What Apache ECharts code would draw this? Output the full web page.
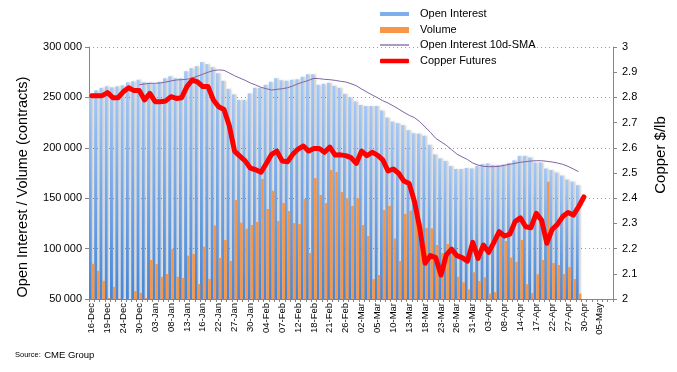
<!DOCTYPE html>
<html><head><meta charset="utf-8">
<script src="https://cdn.jsdelivr.net/npm/echarts@6/dist/echarts.min.js"></script>
<style>html,body{margin:0;padding:0;background:#fff}#c{width:677px;height:372px}</style>
</head><body><div id="c"></div>
<script>
const categories = ["16-Dec","17-Dec","18-Dec","19-Dec","20-Dec","23-Dec","24-Dec","26-Dec","27-Dec","30-Dec","31-Dec",
"02-Jan","03-Jan","06-Jan","07-Jan","08-Jan","09-Jan","10-Jan","13-Jan","14-Jan","15-Jan","16-Jan","17-Jan","21-Jan","22-Jan","23-Jan","24-Jan","27-Jan","28-Jan","29-Jan","30-Jan","31-Jan",
"03-Feb","04-Feb","05-Feb","06-Feb","07-Feb","10-Feb","11-Feb","12-Feb","13-Feb","14-Feb","18-Feb","19-Feb","20-Feb","21-Feb","24-Feb","25-Feb","26-Feb","27-Feb","28-Feb",
"02-Mar","03-Mar","04-Mar","05-Mar","06-Mar","09-Mar","10-Mar","11-Mar","12-Mar","13-Mar","16-Mar","17-Mar","18-Mar","19-Mar","20-Mar","23-Mar","24-Mar","25-Mar","26-Mar","27-Mar","30-Mar","31-Mar",
"01-Apr","02-Apr","03-Apr","06-Apr","07-Apr","08-Apr","09-Apr","13-Apr","14-Apr","15-Apr","16-Apr","17-Apr","20-Apr","21-Apr","22-Apr","23-Apr","24-Apr","27-Apr","28-Apr","29-Apr","30-Apr",
"01-May","04-May","05-May","06-May","07-May"];

const openInterest = [254000,257000,259500,261000,260000,261000,262000,265000,266000,267500,265000,
264500,263500,265500,269000,271000,269000,269000,276000,279000,281000,285000,283000,280000,274000,266500,258500,253000,247500,247500,254000,259500,
259500,262500,265500,269000,267000,266500,267500,268000,270500,273000,273000,262500,263500,264500,261500,259500,253500,250000,246000,
242500,241500,241500,241500,237000,230000,226000,224500,222500,217500,214500,214000,212000,203000,193500,189500,187000,182000,179000,179000,180000,179500,
182000,184000,184500,183000,183000,183500,185000,187500,192000,192000,190500,185500,185500,179500,178000,175500,172500,168500,166500,163000];

const volume = [85000,78000,68000,51000,62000,50500,46000,46000,58000,56000,51000,
88700,84700,72000,74800,99600,72000,71000,93000,94600,65000,102000,70000,123000,90700,108500,87700,148200,125700,119700,123400,126400,
169000,139300,157400,127400,145200,137300,125400,124400,149200,95600,170000,153200,145200,178000,176000,156000,149900,142300,149900,
123400,112500,69800,73800,138300,142300,109900,87700,134300,137600,143000,125000,120400,120000,103600,95600,104600,99600,72100,66500,59600,76500,
67900,71500,55300,56900,112500,107500,91000,86700,108500,64600,56000,74500,88700,166400,85700,83700,74800,81700,69800,55300];

const oiSma = [null,null,null,null,null,null,null,null,null,262600,263300,
264000,264000,264300,265300,266300,267300,267600,268000,269300,271000,273000,275000,276600,277200,276900,274200,271500,269200,266900,264300,262300,
260000,258600,257300,258000,258600,259600,261300,263600,265300,266900,268900,268600,267900,267600,266900,266000,265300,263600,261600,
258300,255300,252400,249700,246700,244400,241500,238500,235200,232200,229900,225900,220600,215400,209400,206000,202500,198100,193800,190900,188400,184900,
182900,181600,181300,181300,181600,182600,183600,184600,185600,186200,186900,187200,187200,186600,185900,184900,183600,181600,179000,176300];

const copper = [2.807,2.807,2.807,2.819,2.799,2.799,2.823,2.838,2.827,2.827,2.790,
2.816,2.783,2.783,2.786,2.803,2.796,2.799,2.843,2.869,2.862,2.843,2.843,2.790,2.763,2.752,2.688,2.587,2.567,2.548,2.519,2.513,
2.503,2.538,2.574,2.587,2.548,2.545,2.574,2.595,2.607,2.587,2.597,2.597,2.582,2.603,2.571,2.572,2.569,2.561,2.538,
2.587,2.569,2.582,2.571,2.552,2.508,2.516,2.499,2.468,2.458,2.386,2.280,2.142,2.172,2.164,2.095,2.175,2.198,2.172,2.164,2.150,2.225,
2.161,2.214,2.185,2.225,2.267,2.250,2.257,2.307,2.322,2.287,2.283,2.340,2.313,2.221,2.276,2.296,2.327,2.343,2.333,2.366,2.405];

const seriesNames = ["Open Interest","Volume","Open Interest 10d-SMA","Copper Futures"];
const leftTitle = "Open Interest / Volume (contracts)";
const rightTitle = "Copper $/lb";

const chart = echarts.init(document.getElementById('c'), null, {renderer:'canvas'});
const FONT = 'Liberation Sans, Arial, sans-serif';
function leg(name, top, h, color, icon){
  return {show:true, data:[{name:name, icon:icon||'rect', itemStyle:{color:color, borderWidth:0}}], orient:'vertical',
    left:380, top:top, padding:0, itemWidth:29, itemHeight:h, selectedMode:false,
    textStyle:{fontFamily:FONT, fontSize:11, color:'#000', lineHeight:14, padding:[0,0,0,6]}};
}
chart.setOption({
  animation:false,
  backgroundColor:'#fff',
  textStyle:{fontFamily:FONT},
  grid:{left:89, right:64, top:47, bottom:73, containLabel:false},
  legend:[
    leg(seriesNames[0], 7, 4, '#7eaeec'),
    leg(seriesNames[1], 23, 6, '#f79646'),
    leg(seriesNames[2], 38, 1.3, '#8064a2'),
    leg(seriesNames[3], 54, 4.5, '#ff0000', 'roundRect')
  ],
  xAxis:{type:'category', data:categories, boundaryGap:true,
    axisLine:{lineStyle:{color:'#868686', width:1}},
    axisTick:{show:true, interval:0, length:3, lineStyle:{color:'#868686'}},
    axisLabel:{interval:2, rotate:90, fontSize:9.5, color:'#000', margin:4, fontFamily:FONT}},
  yAxis:[
    {type:'value', min:50000, max:300000, interval:50000, position:'left',
     axisLine:{show:true, lineStyle:{color:'#868686'}},
     axisTick:{show:true, length:4, lineStyle:{color:'#868686'}},
     axisLabel:{fontSize:11, color:'#000', margin:7, fontFamily:FONT,
       formatter:v=>{const s=String(Math.round(v)); return s.length>3 ? s.slice(0,s.length-3)+'\u2009'+s.slice(-3) : s;}},
     splitLine:{show:true, lineStyle:{color:'#9a9a9a', type:[1,3], width:1}}},
    {type:'value', min:2, max:3, interval:0.1, position:'right',
     axisLine:{show:true, lineStyle:{color:'#868686'}},
     axisTick:{show:true, length:4, lineStyle:{color:'#868686'}},
     axisLabel:{fontSize:11, color:'#000', margin:9, fontFamily:FONT,
       formatter:v=>{const r=Math.round(v*10)/10; return (r===2||r===3)? String(r) : r.toFixed(1);}},
     splitLine:{show:false}}
  ],
  series:[
    {name:seriesNames[0], type:'bar', yAxisIndex:0, data:openInterest, barWidth:2.9, barGap:'0%',
     itemStyle:{color:new echarts.graphic.LinearGradient(0,0,0,1,[{offset:0,color:'#a4c8f6'},{offset:1,color:'#4586d8'}]),
       shadowColor:'rgba(0,0,0,0.2)', shadowBlur:2, shadowOffsetX:2}},
    {name:seriesNames[1], type:'bar', yAxisIndex:0, data:volume, barWidth:2.7,
     itemStyle:{color:'#f79646'}},
    {name:seriesNames[2], type:'line', yAxisIndex:0, data:oiSma, showSymbol:false, symbol:'none', smooth:false,
     lineStyle:{color:'#8064a2', width:1}, itemStyle:{color:'#8064a2'}, z:3},
    {name:seriesNames[3], type:'line', yAxisIndex:1, data:copper, showSymbol:false, symbol:'none',
     lineStyle:{color:'#ff0000', width:5, join:'round', cap:'round'}, itemStyle:{color:'#ff0000'}, z:4}
  ],
  graphic:[
    {type:'text', x:23, y:187, rotation:Math.PI/2, style:{text:leftTitle, fontFamily:FONT, fontSize:14.5, fill:'#000', align:'center', verticalAlign:'middle'}},
    {type:'text', x:661, y:155, rotation:Math.PI/2, style:{text:rightTitle, fontFamily:FONT, fontSize:15, fill:'#000', align:'center', verticalAlign:'middle'}},
    {type:'text', left:15, top:349, style:{text:'{a|Source:} {b|CME Group}', fontFamily:FONT,
      rich:{a:{fontSize:7.5, fill:'#000', fontFamily:FONT}, b:{fontSize:9.5, fill:'#000', fontFamily:FONT}}}}
  ]
});
</script></body></html>
